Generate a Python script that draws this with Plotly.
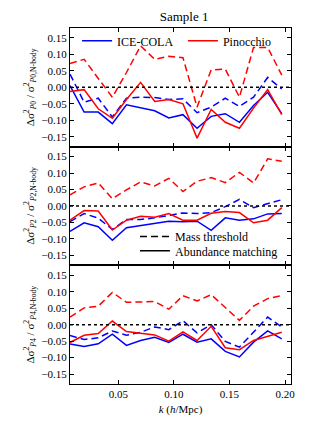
import plotly.graph_objects as go
from plotly.subplots import make_subplots

k = [0.0066, 0.0193, 0.0320, 0.0447, 0.0574, 0.0701, 0.0828, 0.0955,
     0.1082, 0.1209, 0.1336, 0.1463, 0.1590, 0.1717, 0.1844, 0.1971]

# Panel P0
p0_cola_mass = [0.040, -0.045, -0.033, -0.090, -0.033, -0.030, -0.031, -0.037,
                -0.035, -0.077, -0.060, -0.033, -0.058, -0.030, 0.030, -0.005]
p0_cola_abund = [0.005, -0.075, -0.075, -0.110, -0.053, -0.061, -0.071, -0.093,
                 -0.083, -0.124, -0.088, -0.080, -0.106, -0.055, -0.015, -0.080]
p0_pino_mass = [0.072, 0.085, 0.027, -0.030, 0.045, 0.126, 0.085, 0.094,
                0.090, -0.060, 0.053, 0.055, -0.030, 0.121, 0.121, 0.037]
p0_pino_abund = [-0.013, -0.007, -0.065, -0.094, -0.037, 0.015, -0.043, -0.037,
                 -0.050, -0.154, -0.067, -0.106, -0.124, -0.063, -0.007, -0.083]

# Panel P2
p2_cola_mass = [-0.047, -0.023, -0.037, -0.071, -0.041, -0.041, -0.036, -0.029,
                -0.021, -0.023, -0.020, -0.002, 0.020, -0.005, 0.007, 0.019]
p2_cola_abund = [-0.077, -0.051, -0.063, -0.104, -0.066, -0.059, -0.051, -0.046,
                 -0.048, -0.046, -0.074, -0.036, -0.043, -0.039, -0.024, -0.023]
p2_pino_mass = [0.034, 0.058, 0.070, 0.022, 0.049, 0.073, 0.061, 0.084,
                0.044, 0.075, 0.086, 0.071, 0.102, 0.070, 0.143, 0.136]
p2_pino_abund = [-0.043, -0.014, -0.015, -0.073, -0.043, -0.031, -0.034, -0.023,
                 -0.043, -0.043, -0.022, -0.017, -0.020, -0.051, -0.043, -0.005]

# Panel P4
p4_cola_mass = [-0.033, -0.045, -0.040, -0.019, -0.032, -0.023, -0.007, -0.015,
                0.012, -0.025, 0.000, -0.051, -0.068, -0.022, 0.023, -0.007]
p4_cola_abund = [-0.059, -0.066, -0.058, -0.029, -0.063, -0.048, -0.038, -0.054,
                 -0.029, -0.053, -0.043, -0.081, -0.098, -0.053, -0.019, -0.043]
p4_pino_mass = [0.023, 0.051, 0.056, 0.098, 0.068, 0.069, 0.070, 0.047,
                0.088, 0.072, 0.091, 0.052, 0.013, 0.056, 0.079, 0.088]
p4_pino_abund = [-0.054, -0.032, -0.027, 0.011, -0.021, -0.025, -0.031, -0.050,
                 -0.022, -0.048, -0.005, -0.070, -0.076, -0.048, -0.035, -0.023]

y_ticks = [-0.15, -0.10, -0.05, 0.00, 0.05, 0.10, 0.15]
x_ticks = [0.05, 0.10, 0.15, 0.20]

panels = [
    (p0_cola_mass, p0_cola_abund, p0_pino_mass, p0_pino_abund, "0"),
    (p2_cola_mass, p2_cola_abund, p2_pino_mass, p2_pino_abund, "2"),
    (p4_cola_mass, p4_cola_abund, p4_pino_mass, p4_pino_abund, "4"),
]

BLUE = "#0000ff"
RED = "#ff0000"
DASH = "7px,4px"
FONT = "Liberation Serif, Times New Roman, serif"

fig = make_subplots(rows=3, cols=1, shared_xaxes=True, vertical_spacing=0)

for i, (cm, ca, pm, pa, ell) in enumerate(panels):
    row = i + 1
    fig.add_trace(go.Scatter(x=k, y=cm, mode="lines", line=dict(color=BLUE, width=1.5, dash=DASH),
                             showlegend=False), row=row, col=1)
    fig.add_trace(go.Scatter(x=k, y=pm, mode="lines", line=dict(color=RED, width=1.5, dash=DASH),
                             showlegend=False), row=row, col=1)
    fig.add_trace(go.Scatter(x=k, y=ca, mode="lines", line=dict(color=BLUE, width=1.5),
                             name="ICE-COLA", showlegend=(i == 0), legend="legend"), row=row, col=1)
    fig.add_trace(go.Scatter(x=k, y=pa, mode="lines", line=dict(color=RED, width=1.5),
                             name="Pinocchio", showlegend=(i == 0), legend="legend3"), row=row, col=1)
    fig.add_hline(y=0, line=dict(color="black", width=1.5, dash="dot"), row=row, col=1)
    fig.update_yaxes(
        range=[-0.18, 0.18], tickvals=y_ticks, tickformat=".2f",
        title=dict(text=f"Δσ<sup>2</sup><sub><i>P</i>{ell}</sub> / σ<sup>2</sup><sub><i>P</i>{ell},N-body</sub>",
                   font=dict(family=FONT, size=11, color="black"), standoff=4),
        row=row, col=1)

# style legend entries (no data)
fig.add_trace(go.Scatter(x=[None], y=[None], mode="lines", line=dict(color="black", width=1.5, dash=DASH),
                         name="Mass threshold", legend="legend2"), row=2, col=1)
fig.add_trace(go.Scatter(x=[None], y=[None], mode="lines", line=dict(color="black", width=1.5),
                         name="Abundance matching", legend="legend4"), row=2, col=1)

fig.update_xaxes(range=[0.0066, 0.2054], tickvals=x_ticks, tickformat=".2f",
                 showline=True, mirror="allticks", linecolor="black", linewidth=1.2,
                 ticks="inside", ticklen=4, tickcolor="black", showgrid=False, zeroline=False,
                 tickfont=dict(family=FONT, size=11, color="black"))
fig.update_yaxes(showline=True, mirror="allticks", linecolor="black", linewidth=1.2,
                 ticks="inside", ticklen=4, tickcolor="black", showgrid=False, zeroline=False,
                 tickfont=dict(family=FONT, size=11, color="black"))
fig.update_xaxes(title=dict(text="<i>k</i> (<i>h</i>/Mpc)", font=dict(family=FONT, size=11, color="black"),
                            standoff=6), row=3, col=1)

leg_common = dict(bgcolor="rgba(0,0,0,0)", itemwidth=30, font=dict(family=FONT, size=12, color="black"),
                  tracegroupgap=0, orientation="v", xanchor="left", yanchor="middle")

fig.update_layout(
    width=301, height=423,
    margin=dict(l=62, r=18, t=20, b=47),
    paper_bgcolor="white", plot_bgcolor="white",
    title=dict(text="Sample 1", x=0.585, xanchor="center", y=0.979, yanchor="middle",
               font=dict(family=FONT, size=13, color="black")),
    font=dict(family=FONT, size=11, color="black"),
    legend=dict(x=0.032, y=0.964, **leg_common),
    legend3=dict(x=0.511, y=0.964, **leg_common),
    legend2=dict(x=0.294, y=0.414, **leg_common),
    legend4=dict(x=0.294, y=0.374, **leg_common),
)

fig.write_html("out.html")
